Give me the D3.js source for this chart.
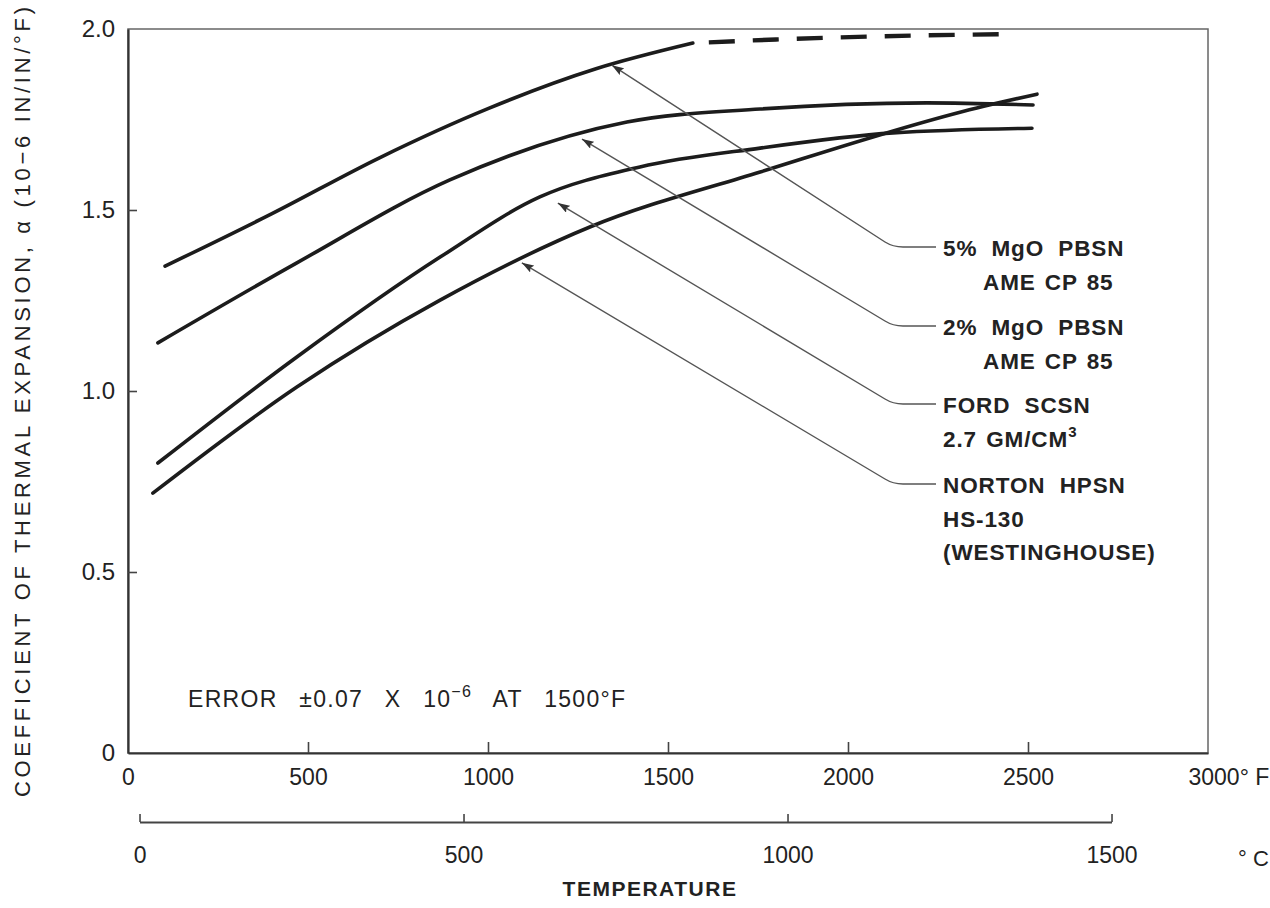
<!DOCTYPE html>
<html>
<head>
<meta charset="utf-8">
<script src="https://cdn.jsdelivr.net/npm/d3@7"></script>
<style>
  body { margin: 0; background: #fff; }
  text { font-family: "Liberation Sans", Arial, sans-serif; fill: #222; }
</style>
</head>
<body>
<svg id="chart" width="1270" height="908"></svg>
<script>
// thermal expansion vs temperature (°F, 10^-6 in/in/°F)
var mgo5 = [[103,1.345],[400,1.49],[700,1.645],[1000,1.78],[1300,1.89],[1569,1.961]];
var mgo5Dashed = [[1569,1.961],[1800,1.971],[2100,1.980],[2450,1.986]];
var mgo2 = [[83,1.133],[469,1.354],[894,1.583],[1386,1.743],[1756,1.779],[2219,1.796],[2514,1.790]];
var ford = [[83,0.801],[469,1.094],[867,1.370],[1144,1.536],[1422,1.619],[1756,1.671],[2125,1.713],[2511,1.726]];
var norton = [[69,0.718],[469,1.011],[867,1.251],[1283,1.453],[1756,1.605],[2358,1.782],[2525,1.820]];

// where each leader arrow touches its curve
var arrowTips = [[1344,1.90],[1261,1.696],[1194,1.519],[1094,1.354]];

var seriesLabels = [
  ["5%  MgO  PBSN", "AME CP 85"],
  ["2%  MgO  PBSN", "AME CP 85"],
  ["FORD  SCSN", "2.7 GM/CM|3"],
  ["NORTON  HPSN", "HS-130", "(WESTINGHOUSE)"]
];

var fTicks = [0, 500, 1000, 1500, 2000, 2500, 3000];
var cTicks = [0, 500, 1000, 1500];
var yTicks = [0, 0.5, 1.0, 1.5, 2.0];

var svg = d3.select("#chart");

var x = d3.scaleLinear().domain([0, 3000]).range([128, 1208]);
var y = d3.scaleLinear().domain([0, 2]).range([753, 29]);
// celsius scale lines up with the fahrenheit one
var xc = d3.scaleLinear().domain([0, 1500]).range([x(32), x(1500 * 9 / 5 + 32)]);

// frame
svg.append("rect")
  .attr("x", x(0)).attr("y", y(2))
  .attr("width", x(3000) - x(0)).attr("height", y(0) - y(2))
  .attr("fill", "none").attr("stroke", "#666").attr("stroke-width", 1.5);

// fahrenheit axis, ticks pointing up
var fAxis = svg.append("g")
  .attr("transform", "translate(0," + y(0) + ")")
  .call(d3.axisBottom(x).tickValues(fTicks).tickSizeInner(-11).tickSizeOuter(0).tickPadding(16)
    .tickFormat(function(d) { return d === 3000 ? "3000° F" : d; }));
fAxis.select(".domain").attr("stroke", "#333").attr("stroke-width", 2.2);
fAxis.selectAll(".tick line").attr("stroke", "#444").attr("stroke-width", 1.6);
fAxis.selectAll(".tick text").attr("font-size", 23).style("font-family", null).attr("fill", "#222");
fAxis.selectAll(".tick").filter(function(d) { return d === 3000; }).select("text")
  .attr("text-anchor", "start").attr("dx", -20);
fAxis.selectAll(".tick").filter(function(d) { return d === 0 || d === 3000; }).select("line").remove();

// y axis
var yAxis = svg.append("g")
  .attr("transform", "translate(" + x(0) + ",0)")
  .call(d3.axisLeft(y).tickValues(yTicks).tickSizeInner(-9).tickSizeOuter(0).tickPadding(13)
    .tickFormat(function(d) { return d === 0 ? "0" : d3.format(".1f")(d); }));
yAxis.select(".domain").attr("stroke", "#333").attr("stroke-width", 2.2);
yAxis.selectAll(".tick line").attr("stroke", "#444").attr("stroke-width", 1.6);
yAxis.selectAll(".tick text").attr("font-size", 24).style("font-family", null).attr("fill", "#222");
yAxis.selectAll(".tick").filter(function(d) { return d === 0 || d === 2; }).select("line").remove();

// celsius axis underneath
var cAxis = svg.append("g")
  .attr("transform", "translate(0,822)")
  .call(d3.axisBottom(xc).tickValues(cTicks).tickSizeInner(-8).tickSizeOuter(0).tickPadding(25)
    .tickFormat(d3.format("d")));
cAxis.select(".domain").attr("stroke", "#444").attr("stroke-width", 1.8);
cAxis.selectAll(".tick line").attr("stroke", "#444").attr("stroke-width", 1.6);
cAxis.selectAll(".tick text").attr("font-size", 23).style("font-family", null).attr("fill", "#222");

svg.append("text").attr("x", 1238).attr("y", 866).attr("font-size", 22).text("° C");

svg.append("text")
  .attr("x", 650).attr("y", 896).attr("text-anchor", "middle")
  .attr("font-size", 21).attr("font-weight", "bold").attr("letter-spacing", 1.5).text("TEMPERATURE");

svg.append("text")
  .attr("transform", "translate(30,402) rotate(-90)")
  .attr("text-anchor", "middle").attr("font-size", 22)
  .attr("textLength", 790).attr("lengthAdjust", "spacing")
  .text("COEFFICIENT OF THERMAL EXPANSION, α (10−6 IN/IN/°F)");

// error note
var err = svg.append("text").attr("x", 188).attr("y", 707).attr("font-size", 23)
  .attr("letter-spacing", 1.3).attr("word-spacing", 14);
err.append("tspan").text("ERROR ±0.07 X 10");
err.append("tspan").attr("dy", -10).attr("font-size", 16).text("−6");
err.append("tspan").attr("dy", 10).text(" AT 1500°F");

// curves
var line = d3.line()
  .x(function(d) { return x(d[0]); })
  .y(function(d) { return y(d[1]); })
  .curve(d3.curveMonotoneX);

[mgo5, mgo2, ford, norton].forEach(function(s) {
  svg.append("path").attr("d", line(s))
    .attr("fill", "none").attr("stroke", "#1c1c1c").attr("stroke-width", 3.6)
    .attr("stroke-linecap", "round");
});
svg.append("path").attr("d", line(mgo5Dashed))
  .attr("fill", "none").attr("stroke", "#1c1c1c").attr("stroke-width", 4.4)
  .attr("stroke-dasharray", "26 18").attr("stroke-dashoffset", -16);

// leaders with arrowheads
svg.append("defs").append("marker")
  .attr("id", "arr").attr("viewBox", "0 0 12 8")
  .attr("refX", 0).attr("refY", 4)
  .attr("markerWidth", 12).attr("markerHeight", 8)
  .attr("markerUnits", "userSpaceOnUse")
  .attr("orient", "auto")
  .append("path").attr("d", "M0,4 L12,0 L10,4 L12,8 Z").attr("fill", "#333");

var labelY = [247, 326, 404, 484];
var elbowX = 893, endX = 936, textX = 943;

arrowTips.forEach(function(t, i) {
  var tx = x(t[0]), ty = y(t[1]), ly = labelY[i];
  var p = d3.path();
  p.moveTo(tx, ty);
  p.lineTo(elbowX - 8, ly - 5);
  p.quadraticCurveTo(elbowX, ly, elbowX + 10, ly);
  p.lineTo(endX, ly);
  svg.append("path").attr("d", p.toString())
    .attr("fill", "none").attr("stroke", "#555").attr("stroke-width", 1.4)
    .attr("marker-start", "url(#arr)");

  seriesLabels[i].forEach(function(s, j) {
    var indent = (i < 2 && j === 1) ? 40 : 0;
    var t2 = svg.append("text")
      .attr("x", textX + indent).attr("y", ly + 9 + j * 33.5)
      .attr("font-size", 22.5).attr("font-weight", "bold")
      .attr("letter-spacing", 0.9).attr("word-spacing", j === 0 ? 7 : 2);
    var parts = s.split("|");
    t2.append("tspan").text(parts[0]);
    if (parts[1]) t2.append("tspan").attr("dy", -10).attr("font-size", 15).text(parts[1]);
  });
});
</script>
</body>
</html>
